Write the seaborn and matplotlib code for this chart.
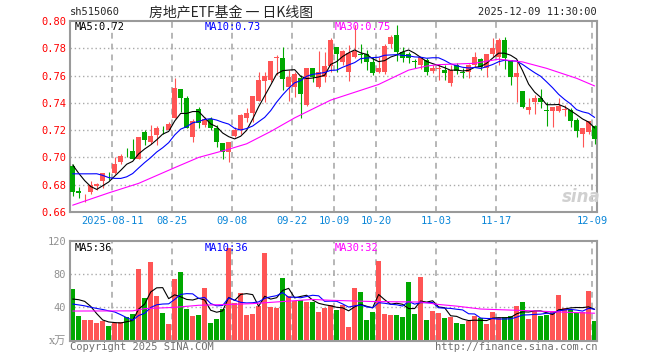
import numpy as np
import pandas as pd
import matplotlib
matplotlib.use('Agg')
import matplotlib.pyplot as plt
import matplotlib.transforms as mtransforms
import seaborn as sns

sns.set_style('white')
plt.rcParams['font.family'] = ['DejaVu Sans Mono', 'Noto Sans CJK SC']
plt.rcParams['axes.unicode_minus'] = False

# daily candles, 2025-07-31 .. 2025-12-09
opens = [0.694, 0.6757, 0.673, 0.675, 0.679, 0.683, 0.688, 0.6885, 0.697, 0.7035,
         0.7048, 0.699, 0.7185, 0.711, 0.7165, 0.7202, 0.720, 0.7292, 0.750, 0.7434,
         0.7153, 0.7356, 0.7238, 0.7282, 0.7214, 0.7107, 0.7038, 0.716, 0.7202, 0.7287,
         0.7324, 0.7414, 0.7563, 0.7568, 0.7732, 0.7727, 0.7519, 0.7519, 0.758, 0.7385,
         0.7653, 0.7519, 0.7592, 0.7673, 0.7807, 0.7697, 0.7629, 0.7739, 0.7758, 0.7756,
         0.770, 0.7629, 0.7629, 0.7829, 0.7898, 0.7776, 0.7756, 0.7704, 0.7678, 0.7714,
         0.7634, 0.7651, 0.7641, 0.7544, 0.7678, 0.7629, 0.7624, 0.7678, 0.7722, 0.7653,
         0.7756, 0.7739, 0.7861, 0.7714, 0.7592, 0.7487, 0.7348, 0.7404, 0.7439, 0.7345,
         0.7343, 0.7343, 0.7351, 0.7348, 0.7275, 0.717, 0.7185, 0.7231]
highs = [0.695, 0.678, 0.6735, 0.683, 0.6815, 0.6885, 0.689, 0.700, 0.7025, 0.7067,
         0.7136, 0.715, 0.720, 0.724, 0.7233, 0.7233, 0.7258, 0.7585, 0.750, 0.745,
         0.7282, 0.7373, 0.7294, 0.730, 0.7238, 0.7107, 0.7116, 0.7226, 0.7317, 0.736,
         0.745, 0.7624, 0.7624, 0.7707, 0.7751, 0.7807, 0.7641, 0.7624, 0.7605, 0.7658,
         0.7658, 0.778, 0.7776, 0.7878, 0.7807, 0.7785, 0.7824, 0.797, 0.783, 0.7788,
         0.7736, 0.7734, 0.7829, 0.7898, 0.797, 0.7812, 0.7776, 0.772, 0.7734, 0.7727,
         0.7678, 0.7683, 0.7678, 0.7678, 0.769, 0.7653, 0.7683, 0.7776, 0.7732, 0.7756,
         0.7878, 0.7873, 0.7885, 0.7714, 0.7714, 0.7487, 0.7434, 0.7458, 0.7502, 0.7404,
         0.7373, 0.7434, 0.7385, 0.7365, 0.7287, 0.7214, 0.7268, 0.7238]
lows = [0.672, 0.670, 0.667, 0.673, 0.676, 0.6775, 0.6835, 0.688, 0.6955, 0.700,
        0.699, 0.699, 0.709, 0.710, 0.709, 0.717, 0.720, 0.7292, 0.7336, 0.7214,
        0.7111, 0.7214, 0.722, 0.7202, 0.708, 0.6987, 0.697, 0.7153, 0.717, 0.7263,
        0.7263, 0.7414, 0.7404, 0.7556, 0.7605, 0.7495, 0.7414, 0.7441, 0.7292, 0.738,
        0.7556, 0.7507, 0.7556, 0.7629, 0.7624, 0.768, 0.7563, 0.7727, 0.7695, 0.7641,
        0.7605, 0.7617, 0.761, 0.780, 0.7707, 0.7702, 0.7695, 0.7653, 0.7649, 0.7604,
        0.7617, 0.7568, 0.7568, 0.7527, 0.7612, 0.7585, 0.758, 0.7666, 0.7641, 0.7592,
        0.7739, 0.7678, 0.7646, 0.7531, 0.7409, 0.7361, 0.7319, 0.7319, 0.7361, 0.7233,
        0.7226, 0.7336, 0.7302, 0.7226, 0.7153, 0.708, 0.717, 0.710]
closes = [0.675, 0.6738, 0.6735, 0.680, 0.6805, 0.6885, 0.6875, 0.695, 0.701, 0.7031,
          0.699, 0.715, 0.713, 0.716, 0.7214, 0.720, 0.7248, 0.7512, 0.7439, 0.7214,
          0.7268, 0.725, 0.7282, 0.7214, 0.7111, 0.7038, 0.7116, 0.720, 0.7312, 0.7329,
          0.745, 0.7568, 0.7597, 0.7707, 0.7736, 0.7573, 0.7588, 0.7612, 0.7465, 0.7653,
          0.7592, 0.7629, 0.7673, 0.7861, 0.7756, 0.778, 0.7763, 0.778, 0.7754, 0.7702,
          0.7617, 0.7658, 0.7817, 0.7885, 0.7776, 0.7732, 0.7727, 0.770, 0.7734, 0.7624,
          0.7653, 0.7655, 0.7622, 0.7641, 0.7634, 0.7617, 0.7678, 0.7734, 0.7666, 0.7756,
          0.7805, 0.7861, 0.7732, 0.7592, 0.7617, 0.7373, 0.7373, 0.7439, 0.7404, 0.7343,
          0.7373, 0.738, 0.7353, 0.7268, 0.7194, 0.7214, 0.7268, 0.7136]
# closes of the 9 sessions before the window (for the moving averages)
prior_closes = [0.674, 0.6735, 0.680, 0.680, 0.700, 0.7043, 0.7005, 0.7015, 0.6912]

# volume, 万手
volumes = [62, 29.6, 24.8, 24.8, 21.2, 24, 17.6, 21.2, 22.4, 28.4,
           32, 86, 51.2, 94.4, 53.6, 33.2, 20, 74, 82.4, 38,
           29.6, 30.8, 63.2, 21.2, 26, 38, 111.2, 45.2, 57.2, 30.8,
           32, 41.2, 105.2, 40.4, 39.2, 75.2, 54, 48, 49.2, 46.4,
           46.4, 34.4, 39.2, 43.2, 37.2, 43.2, 16.4, 63.2, 58.4, 25.2,
           34.4, 96, 32, 31.2, 31.2, 28, 70.4, 32, 76.4, 24.8,
           36, 33.2, 27.2, 28.4, 21.2, 20, 24, 29.6, 27.2, 20,
           34.4, 27.2, 28.4, 29.6, 41.6, 46.4, 26, 35.2, 29.6, 30.8,
           35.2, 54.8, 39.2, 36.8, 33.2, 34.4, 59.6, 23.6]
prior_volumes = [40, 36, 42, 35, 37, 33.6, 34.8, 54.8, 64.8]

# 30-day averages
ma30_idx = [0, 6, 11, 17, 21, 26, 29, 33, 37, 43, 51, 56, 59, 61, 67, 71, 75, 79, 84, 87]
ma30_val = [0.665, 0.674, 0.681, 0.6925, 0.700, 0.706, 0.710, 0.719, 0.729, 0.742,
            0.7535, 0.764, 0.767, 0.768, 0.769, 0.772, 0.770, 0.7653, 0.758, 0.7524]
vma30_idx = [0, 10, 12, 17, 21, 26, 30, 35, 40, 43, 50, 58, 61, 64, 68, 72, 76, 82, 87]
vma30_val = [35.6, 35.8, 38.5, 40, 42.5, 43.5, 44.5, 47, 49.5, 48.5, 47, 46.4, 43.5,
             41.5, 38, 37, 36, 34.2, 33]

date_labels = ['2025-08-11', '08-25', '09-08', '09-22', '10-09', '10-20', '11-03', '11-17', '12-09']
date_idx = [7, 17, 27, 37, 44, 51, 61, 71, 87]
price_ticks = [0.66, 0.68, 0.70, 0.72, 0.74, 0.76, 0.78, 0.80]
vol_ticks = [40, 80, 120]
ma_price_text = ['MA5:0.72', 'MA10:0.73', 'MA30:0.75']
ma_vol_text = ['MA5:36', 'MA10:36', 'MA30:32']

RED = '#ff5555'
GREEN = '#00a800'
GRID = '#aaaaaa'
SPINE = '#9a9a9a'

n = len(closes)
idx = np.arange(n)
df = pd.DataFrame({'i': idx, 'open': opens, 'high': highs, 'low': lows,
                   'close': closes, 'vol': volumes})
df['dir'] = np.where(df['close'] >= df['open'], 'up', 'down')
pal = {'up': RED, 'down': GREEN}

all_close = pd.Series(prior_closes + closes)
ma5 = all_close.rolling(5).mean().iloc[len(prior_closes):].to_numpy()
ma10 = all_close.rolling(10).mean().iloc[len(prior_closes):].to_numpy()
all_vol = pd.Series(prior_volumes + volumes)
vma5 = all_vol.rolling(5).mean().iloc[len(prior_volumes):].to_numpy()
vma10 = all_vol.rolling(10).mean().iloc[len(prior_volumes):].to_numpy()

W, H = 660, 360
fig = plt.figure(figsize=(6.6, 3.6), dpi=100)
L, R = 70.3, 597.3
ax = fig.add_axes([L / W, (H - 212) / H, (R - L) / W, 191 / H])
axv = fig.add_axes([L / W, (H - 340.7) / H, (R - L) / W, 100 / H])

xlo, xhi = -0.4, 87.45
grid_x = [d - 0.4 for d in date_idx]


def style_axes(a):
    for s in a.spines.values():
        s.set_color(SPINE)
        s.set_linewidth(1.5)
    a.set_xlim(xlo, xhi)
    for gx in grid_x:
        a.axvline(gx, color=GRID, lw=1.2, ls=(0, (3.5, 3)), zorder=0)
    a.tick_params(length=0)


# --- price panel
style_axes(ax)
ax.set_ylim(0.66, 0.80)
for p in price_ticks[1:-1]:
    ax.axhline(p, color=GRID, lw=1, ls=(0, (1, 2)), zorder=0)
for d, sub in df.groupby('dir'):
    c = pal[d]
    ax.vlines(sub['i'], sub['low'], sub['high'], color=c, lw=0.8, zorder=2)
    body = (sub['close'] - sub['open']).abs().clip(lower=0.0004)
    ax.bar(sub['i'], body, bottom=sub[['open', 'close']].min(axis=1), width=0.78,
           color=c, lw=0, zorder=3)
sns.lineplot(x=idx, y=ma5, color='black', lw=0.8, ax=ax, zorder=4)
sns.lineplot(x=idx, y=ma10, color='#0000ff', lw=0.8, ax=ax, zorder=4)
sns.lineplot(x=ma30_idx, y=ma30_val, color='#ff00ff', lw=0.8, ax=ax, zorder=4)
ax.set_yticks(price_ticks)
ax.set_yticklabels([f'{p:.2f}' for p in price_ticks], color='#ff0000', fontsize=7.5)
ax.set_xticks(grid_x)
ax.set_xticklabels(date_labels, color='#0a86d8', fontsize=7.5)
ax.tick_params(axis='y', pad=3)
ax.tick_params(axis='x', pad=3)
ax.set_xlabel('')
ax.set_ylabel('')

# --- volume panel
style_axes(axv)
axv.set_ylim(0, 120)
for v in vol_ticks[:-1]:
    axv.axhline(v, color=GRID, lw=1, ls=(0, (1, 2)), zorder=0)
sns.barplot(data=df, x='i', y='vol', hue='dir', palette=pal, dodge=False,
            width=0.86, saturation=1, legend=False, linewidth=0, ax=axv, zorder=2)
axv.set_xlim(xlo, xhi)
sns.lineplot(x=idx, y=vma5, color='black', lw=0.8, ax=axv, zorder=4)
sns.lineplot(x=idx, y=vma10, color='#0000ff', lw=0.8, ax=axv, zorder=4)
sns.lineplot(x=vma30_idx, y=vma30_val, color='#ff00ff', lw=0.8, ax=axv, zorder=4)
axv.set_yticks(vol_ticks)
axv.set_yticklabels([str(v) for v in vol_ticks], color='#909090', fontsize=7.5)
axv.tick_params(axis='y', pad=3)
axv.set_xticks([])
axv.set_xlabel('')
axv.set_ylabel('')
trans = mtransforms.blended_transform_factory(fig.transFigure, axv.transData)
axv.text(66 / W, 0, 'x万', transform=trans, ha='right', va='center',
         color='#909090', fontsize=8, family=['DejaVu Serif', 'Noto Sans CJK SC'])


def ftext(x, y, s, **kw):
    fig.text(x / W, 1 - y / H, s, **kw)


ma_cols = ['black', '#0000ff', '#ff00ff']
ma_x = [75, 205, 335]
for x, s, c in zip(ma_x, ma_price_text, ma_cols):
    ftext(x, 26.5, s, color=c, fontsize=7.5, va='center')
for x, s, c in zip(ma_x, ma_vol_text, ma_cols):
    ftext(x, 248, s, color=c, fontsize=7.5, va='center')

ftext(70, 12, 'sh515060', fontsize=7.5, va='center')
ftext(597, 12, '2025-12-09 11:30:00', fontsize=7.5, va='center', ha='right')
ftext(231, 12, '房地产ETF基金 一 日K线图', fontsize=10, va='center', ha='center',
      family=['Noto Sans CJK SC', 'DejaVu Sans'])
ftext(70, 346.5, 'Copyright 2025 SINA.COM', fontsize=7.5, va='center', color='#707070')
ftext(597, 346.5, 'http://finance.sina.com.cn', fontsize=7.5, va='center', ha='right',
      color='#707070')
ftext(581, 197, 'sina', fontsize=12, va='center', ha='center', color='#d0d0d0',
      style='italic', weight='bold', family='DejaVu Sans')

fig.savefig('out.png', dpi=100)
